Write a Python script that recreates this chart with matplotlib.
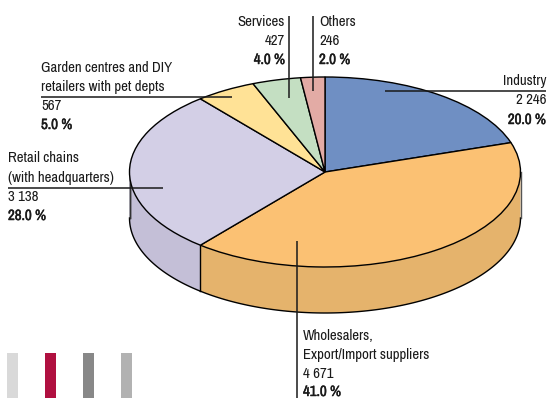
import numpy as np
import matplotlib
matplotlib.use("Agg")
import matplotlib.pyplot as plt
import matplotlib.patheffects as pe
import logging
logging.getLogger("matplotlib.font_manager").setLevel(logging.ERROR)

# Customer groups, clockwise from twelve o'clock
categories = ["Industry", "Wholesalers", "Retail chains", "Garden centres", "Services", "Others"]
shares = [20.0, 41.0, 28.0, 5.0, 4.0, 2.0]
top_colors = ["#6F8FC3", "#FBC173", "#D3CFE6", "#FFE296", "#C4DFC2", "#E3ABA5"]
wall_colors = ["#5F7BA8", "#E5B36C", "#C4BFD7", "#DCC383", "#A9C0A7", "#C49490"]

W, H = 547, 398
CX, CY, RX, RY, DEPTH = 325.0, 172.0, 195.5, 95.0, 46.0
INK = "#1a1a1a"
plt.rcParams["font.family"] = ["Archivo Narrow", "Roboto Condensed", "Liberation Sans Narrow", "Roboto", "DejaVu Sans"]

fig = plt.figure(figsize=(W / 100, H / 100), dpi=100, facecolor="white")

# Pie axes: the unit circle is stretched to the tilted ellipse
ax = fig.add_axes([0, 0, 1, 1])
ax.pie(shares, colors=top_colors, startangle=90, counterclock=False, radius=1,
       wedgeprops=dict(edgecolor="black", linewidth=1.0, zorder=3))
ax.set_aspect("auto")
ax.set_xlim((0 - CX) / RX, (W - CX) / RX)
ax.set_ylim((CY - H) / RY, CY / RY)
ax.axis("off")

# Side wall: only the front half of the rim is visible
d = DEPTH / RY
edges = 90 - np.cumsum([0] + shares) * 3.6
for i in range(len(shares)):
    a0 = max(edges[i + 1], -180)
    a1 = min(edges[i], 0)
    if a1 > a0:
        t = np.radians(np.linspace(a0, a1, 120))
        x, y = np.cos(t), np.sin(t)
        ax.fill(np.r_[x, x[::-1]], np.r_[y, y[::-1] - d],
                facecolor=wall_colors[i], edgecolor="none", zorder=1)
        ax.plot(x, y - d, color="black", lw=1.0, zorder=2)
        ax.plot([x[0], x[0]], [y[0], y[0] - d], color="black", lw=1.0, zorder=2)
ax.plot([-1, -1], [0, -d], color="#333333", lw=1.0, zorder=2)
ax.plot([1, 1], [0, -d], color="#555555", lw=1.0, zorder=2)

# Overlay in pixel units for the leader lines, captions and bottom tabs
ov = fig.add_axes([0, 0, 1, 1], facecolor="none")
ov.set_xlim(0, W)
ov.set_ylim(H, 0)
ov.axis("off")

leaders = [
    ((385, 546), (90.5, 90.5)),
    ((297, 297), (241, 398)),
    ((8, 163), (187.5, 187.5)),
    ((41, 232), (97, 97)),
    ((288.5, 288.5), (16, 98)),
    ((313, 313), (16, 91)),
]
for xs, ys in leaders:
    ov.plot(xs, ys, color=INK, lw=1.1, zorder=5, solid_capstyle="butt")

captions = [
    (546, "right", [81, 100, 120], ["Industry", "2 246", "20.0 %"]),
    (303, "left", [336, 355, 374, 392], ["Wholesalers,", "Export/Import suppliers", "4 671", "41.0 %"]),
    (8, "left", [158, 178, 197, 216], ["Retail chains", "(with headquarters)", "3 138", "28.0 %"]),
    (41, "left", [68, 87, 106, 125], ["Garden centres and DIY", "retailers with pet depts", "567", "5.0 %"]),
    (285, "right", [22, 41, 60], ["Services", "427", "4.0 %"]),
    (319, "left", [22, 41, 60], ["Others", "246", "2.0 %"]),
]
heavy = [pe.withStroke(linewidth=0.35, foreground=INK)]
for x, ha, ys, lines in captions:
    for j, (y, line) in enumerate(zip(ys, lines)):
        last = j == len(lines) - 1
        ov.text(x, y, line, ha=ha, va="center", fontsize=10.7, color=INK,
                fontweight="bold" if last else "normal",
                path_effects=heavy if last else None)

tab_colors = ["#D9D9D9", "#B01040", "#888888", "#B2B2B2"]
for x0, c in zip([7, 45, 83, 121], tab_colors):
    ov.fill_between([x0, x0 + 11], 353, 398, color=c, lw=0)

fig.savefig("out.png", dpi=100)
